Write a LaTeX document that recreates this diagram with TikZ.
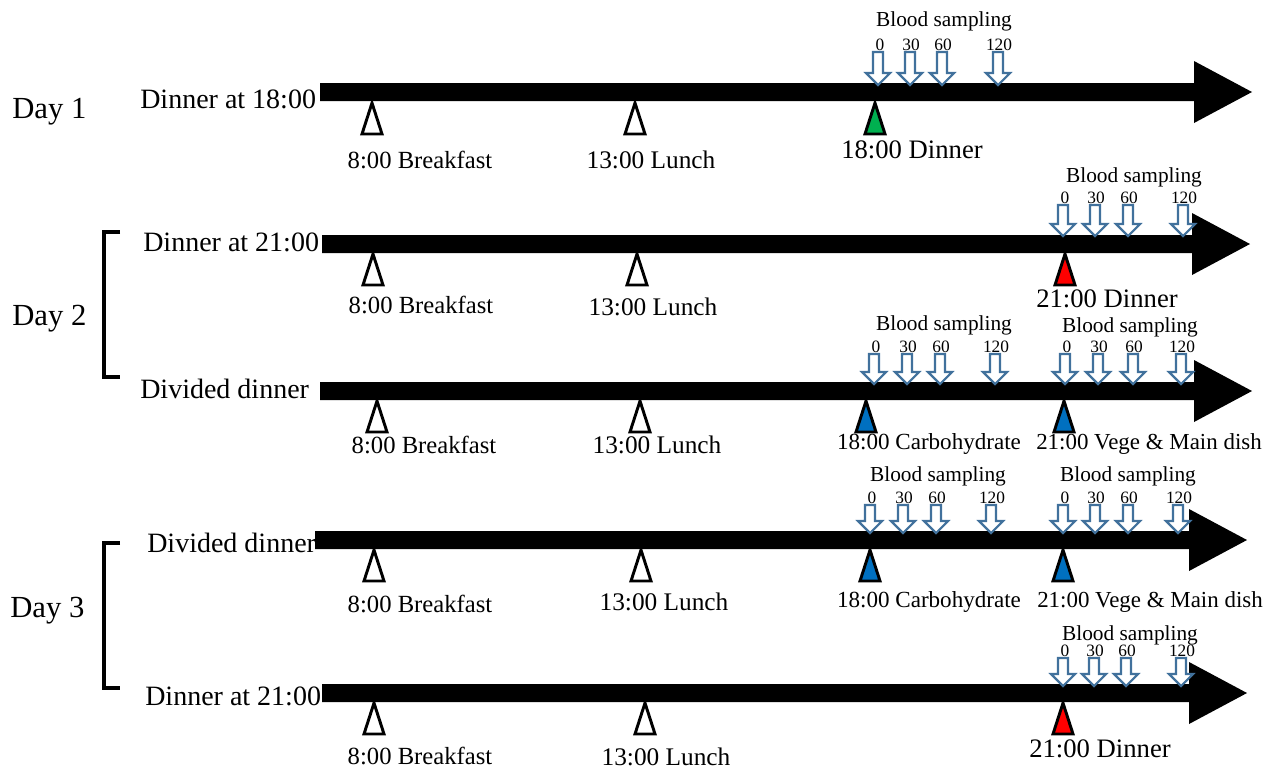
\documentclass[tikz,border=0pt]{standalone}
\usepackage{fontspec}
\setmainfont{Liberation Serif}
\usetikzlibrary{positioning}

\definecolor{sampleblue}{RGB}{65,113,156}
\definecolor{mealgreen}{RGB}{0,176,80}
\definecolor{mealred}{RGB}{255,0,0}
\definecolor{mealblue}{RGB}{0,112,192}

% y, start, tip
\newcommand{\timeline}[3]{%
\fill (#2,#1-9) -- (#3-58,#1-9) -- (#3-58,#1-31) -- (#3,#1) -- (#3-58,#1+31) -- (#3-58,#1+9) -- (#2,#1+9) -- cycle;}
% x, apex, fill
\newcommand{\meal}[3]{%
\draw[line width=2.2pt,fill=#3] (#1,#2) -- (#1+10,#2+31) -- (#1-10,#2+31) -- cycle;}
% x, top, tip
\newcommand{\sample}[3]{%
\draw[sampleblue,line width=1.6pt,fill=white] (#1-5,#2) -- (#1+5,#2) -- (#1+5,#3-12) -- (#1+12,#3-12) -- (#1,#3) -- (#1-12,#3-12) -- (#1-5,#3-12) -- cycle;}
% name, label x, label base, x0, x30, x60, x120, number base, tip
\newcommand{\sampling}[9]{%
\node[blood] (#1) at (#2,#3) {Blood sampling};
\sample{#4}{#8+2}{#9}\sample{#5}{#8+2}{#9}\sample{#6}{#8+2}{#9}\sample{#7}{#8+2}{#9}
\node[num] (#1-0) at (#4+2,#8) {0};
\node[num] (#1-30) at (#5+1,#8) {30};
\node[num] (#1-60) at (#6+1,#8) {60};
\node[num] (#1-120) at (#7+1,#8) {120};}

\begin{document}
\begin{tikzpicture}[x=0.75pt,y=-0.75pt,
    lbl/.style={anchor=base,inner sep=0pt,font=\fontsize{19}{22}\selectfont},
    carb/.style={lbl,font=\fontsize{17.3}{20}\selectfont},
    vege/.style={lbl,font=\fontsize{17.2}{20}\selectfont},
    row/.style={anchor=base west,inner sep=0pt,font=\fontsize{21}{24}\selectfont},
    day/.style={anchor=base west,inner sep=0pt,font=\fontsize{23}{26}\selectfont},
    blood/.style={anchor=base,inner sep=0pt,font=\fontsize{16}{19}\selectfont},
    num/.style={anchor=base,inner sep=0pt,font=\fontsize{13}{15}\selectfont}]
\useasboundingbox (0,0) rectangle (1270,769);

\node[day] (day1) at (12,118) {Day 1};
\node[day] (day2) at (12,325) {Day 2};
\node[day] (day3) at (10,617) {Day 3};
\draw[line width=3pt] (120,232) -- (104,232) -- (104,377) -- (120,377);
\draw[line width=3pt] (120,543) -- (104,543) -- (104,688) -- (120,688);

% Day 1
\node[row] (r1) at (140,108) {Dinner at 18:00};
\timeline{92}{320}{1252}
\meal{372}{103}{white}\meal{635}{103}{white}\meal{875}{103}{mealgreen}
\node[lbl,font=\fontsize{18.5}{22}\selectfont] (r1-b) at (420,168) {8:00 Breakfast};
\node[lbl] (r1-l) at (651,168) {13:00 Lunch};
\node[lbl,font=\fontsize{20}{23}\selectfont] (r1-d) at (912,158) {18:00 Dinner};
\sampling{bs1}{944}{26}{878}{910}{942}{998}{50}{85}

% Day 2
\node[row] (r2) at (143,251) {Dinner at 21:00};
\timeline{244}{322}{1250}
\meal{373}{254}{white}\meal{637}{254}{white}\meal{1065}{254}{mealred}
\node[lbl,font=\fontsize{18.5}{22}\selectfont] (r2-b) at (421,313) {8:00 Breakfast};
\node[lbl] (r2-l) at (653,315) {13:00 Lunch};
\node[lbl,font=\fontsize{20}{23}\selectfont] (r2-d) at (1107,307) {21:00 Dinner};
\sampling{bs2}{1134}{182}{1063}{1095}{1128}{1183}{203}{236}

\node[row] (r3) at (140,398) {Divided dinner};
\timeline{391}{320}{1252}
\meal{377}{401}{white}\meal{640}{401}{white}\meal{866}{401}{mealblue}\meal{1064}{401}{mealblue}
\node[lbl,font=\fontsize{18.5}{22}\selectfont] (r3-b) at (424,453) {8:00 Breakfast};
\node[lbl] (r3-l) at (657,453) {13:00 Lunch};
\node[carb] (r3-c) at (929,449) {18:00 Carbohydrate};
\node[vege] (r3-v) at (1149,449) {21:00 Vege \& Main dish};
\sampling{bs3}{944}{330}{874}{907}{940}{995}{352}{384}
\sampling{bs3b}{1130}{332}{1065}{1098}{1133}{1181}{352}{384}

% Day 3
\node[row] (r4) at (147,552) {Divided dinner};
\timeline{540}{315}{1247}
\meal{374}{550}{white}\meal{641}{550}{white}\meal{870}{550}{mealblue}\meal{1063}{550}{mealblue}
\node[lbl,font=\fontsize{18.5}{22}\selectfont] (r4-b) at (420,612) {8:00 Breakfast};
\node[lbl] (r4-l) at (664,610) {13:00 Lunch};
\node[carb] (r4-c) at (929,607) {18:00 Carbohydrate};
\node[vege] (r4-v) at (1150,607) {21:00 Vege \& Main dish};
\sampling{bs4}{938}{481}{870}{903}{936}{991}{503}{533}
\sampling{bs4b}{1128}{481}{1063}{1095}{1128}{1178}{503}{533}

\node[row] (r5) at (145,705) {Dinner at 21:00};
\timeline{693}{322}{1247}
\meal{374}{703}{white}\meal{645}{703}{white}\meal{1063}{703}{mealred}
\node[lbl,font=\fontsize{18.5}{22}\selectfont] (r5-b) at (420,764) {8:00 Breakfast};
\node[lbl] (r5-l) at (666,765) {13:00 Lunch};
\node[lbl,font=\fontsize{20}{23}\selectfont] (r5-d) at (1100,757) {21:00 Dinner};
\sampling{bs5}{1130}{640}{1063}{1094}{1126}{1181}{656}{686}
\end{tikzpicture}
\end{document}
